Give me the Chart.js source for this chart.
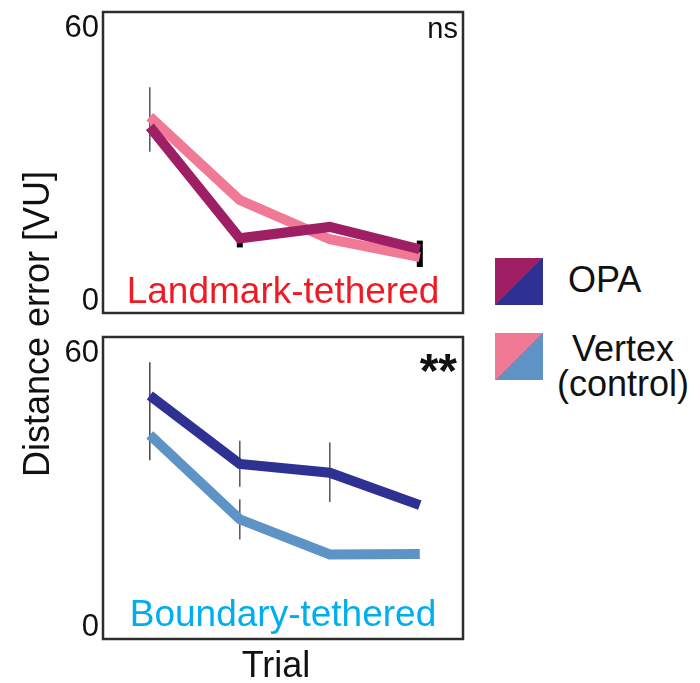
<!DOCTYPE html>
<html>
<head>
<meta charset="utf-8">
<script src="https://cdn.jsdelivr.net/npm/chart.js@4.4.1/dist/chart.umd.min.js"></script>
<style>
  body { margin: 0; background: #fff; }
  #wrap { position: relative; width: 700px; height: 683px; overflow: hidden;
          font-family: "Liberation Sans", Arial, sans-serif; color: #111; }
  canvas { position: absolute; left: 0; }
  .txt { position: absolute; font-size: 36px; line-height: 36px; white-space: nowrap; }
  .swatch { position: absolute; left: 495px; width: 48px; height: 47px; }
</style>
</head>
<body>
<div id="wrap">
  <canvas id="landmarkChart" width="470" height="325" style="top:0"></canvas>
  <canvas id="boundaryChart" width="470" height="325" style="top:325px"></canvas>

  <div class="txt" id="yTitle" style="left:37px;top:324px;width:400px;text-align:center;
       transform:translate(-50%,-50%) rotate(-90deg)">Distance error [VU]</div>
  <div class="txt" style="left:176px;top:647px;width:200px;text-align:center">Trial</div>

  <div class="swatch" style="top:258px;background:linear-gradient(to bottom right,#9e1f63 50%,#2e3192 50%)"></div>
  <div class="swatch" style="top:333px;background:linear-gradient(to bottom right,#f07a96 50%,#5e93c6 50%)"></div>
  <div class="txt" style="left:568px;top:262px">OPA</div>
  <div class="txt" style="left:552px;top:331px;width:142px;text-align:center">Vertex</div>
  <div class="txt" style="left:552px;top:366px;width:142px;text-align:center">(control)</div>
</div>

<script>
const trials = [1, 2, 3, 4];
const yTicks = [0, 60];

// Landmark-tethered panel
const landmarkOPA = [38.4, 13.9, 16.4, 11.5];
const landmarkVertex = [40.6, 22.3, 13.7, 9.8];
const landmarkOPAErrLow = [null, 11.9, null, 7.6];
const landmarkOPAErrHigh = [null, 15.0, null, 13.4];
const landmarkVertexErrLow = [32.9, null, null, null];
const landmarkVertexErrHigh = [47.1, null, null, null];

// Boundary-tethered panel
const boundaryOPA = [50.8, 35.8, 33.9, 26.8];
const boundaryVertex = [42.2, 23.7, 16.0, 16.1];
const boundaryOPAErrLow = [36.6, 30.8, 27.5, null];
const boundaryOPAErrHigh = [58.1, 40.9, 40.5, null];
const boundaryVertexErrLow = [null, 19.3, null, null];
const boundaryVertexErrHigh = [null, 28.1, null, null];

const FONT = "'Liberation Sans', Arial, sans-serif";

function points(values) {
  return trials.map((t, i) => ({ x: t, y: values[i] }));
}

// frame, error bars and in-panel labels
const panelPlugin = {
  id: "panel",
  beforeDatasetsDraw(chart, args, opts) {
    const { ctx } = chart;
    const x = chart.scales.x;
    const y = chart.scales.y;
    opts.errorBars.forEach((bars) => {
      trials.forEach((t, i) => {
        if (bars.low[i] == null) return;
        const px = x.getPixelForValue(t);
        ctx.save();
        ctx.strokeStyle = bars.colors[i];
        ctx.lineWidth = bars.widths[i];
        ctx.beginPath();
        ctx.moveTo(px, y.getPixelForValue(bars.low[i]));
        ctx.lineTo(px, y.getPixelForValue(bars.high[i]));
        ctx.stroke();
        ctx.restore();
      });
    });
  },
  afterDraw(chart, args, opts) {
    const { ctx, chartArea: a } = chart;
    ctx.save();
    ctx.strokeStyle = "#2d2d2d";
    ctx.lineWidth = 2.5;
    ctx.strokeRect(a.left, a.top, a.right - a.left, a.bottom - a.top);

    ctx.textBaseline = "alphabetic";
    ctx.textAlign = "center";
    ctx.fillStyle = opts.labelColor;
    ctx.font = `37px ${FONT}`;
    ctx.fillText(opts.label, (a.left + a.right) / 2, a.bottom - opts.labelOffset);

    ctx.textAlign = "right";
    ctx.fillStyle = "#111";
    ctx.font = opts.sigFont;
    ctx.fillText(opts.sig, a.right - opts.sigRight, a.top + opts.sigTop);
    ctx.restore();
  },
};

function chartOptions(series, panel, padding) {
  return {
    type: "line",
    data: {
      datasets: series.map((s) => ({
        data: points(s.values),
        borderColor: s.color,
        borderWidth: 10,
        borderCapStyle: "butt",
        borderJoinStyle: "miter",
        tension: 0,
        pointRadius: 0,
        fill: false,
      })),
    },
    options: {
      responsive: false,
      animation: false,
      events: [],
      layout: { padding },
      plugins: {
        legend: { display: false },
        tooltip: { enabled: false },
        panel,
      },
      scales: {
        x: {
          type: "linear",
          min: 0.48,
          max: 4.48,
          display: false,
        },
        y: {
          min: -2.5,
          max: 63.6,
          afterBuildTicks(scale) {
            scale.ticks = yTicks.map((v) => ({ value: v }));
          },
          afterFit(scale) {
            scale.width = 103;
            scale.paddingTop = 0;
            scale.paddingBottom = 0;
          },
          grid: { display: false, drawTicks: false, tickLength: 0 },
          border: { display: false },
          ticks: {
            color: "#111",
            padding: 4,
            font: { family: FONT, size: 31 },
          },
        },
      },
    },
    plugins: [panelPlugin],
  };
}

new Chart(
  document.getElementById("landmarkChart"),
  chartOptions(
    [
      { values: landmarkOPA, color: "#9e1f63" },
      { values: landmarkVertex, color: "#f07a96" },
    ],
    {
      label: "Landmark-tethered",
      labelColor: "#ed1c24",
      labelOffset: 10,
      sig: "ns",
      sigFont: `29px ${FONT}`,
      sigRight: 5,
      sigTop: 26,
      errorBars: [
        {
          low: landmarkOPAErrLow,
          high: landmarkOPAErrHigh,
          colors: ["#000", "#000", "#000", "#000"],
          widths: [6, 6, 6, 6],
        },
        {
          low: landmarkVertexErrLow,
          high: landmarkVertexErrHigh,
          colors: ["#555", "#555", "#555", "#555"],
          widths: [1.5, 1.5, 1.5, 1.5],
        },
      ],
    },
    { top: 12, right: 7, bottom: 12, left: 0 }
  )
);

new Chart(
  document.getElementById("boundaryChart"),
  chartOptions(
    [
      { values: boundaryOPA, color: "#2e3192" },
      { values: boundaryVertex, color: "#5e93c6" },
    ],
    {
      label: "Boundary-tethered",
      labelColor: "#00aeef",
      labelOffset: 13,
      sig: "**",
      sigFont: `bold 48px ${FONT}`,
      sigRight: 6,
      sigTop: 50,
      errorBars: [
        {
          low: boundaryOPAErrLow,
          high: boundaryOPAErrHigh,
          colors: ["#444", "#555", "#555", "#555"],
          widths: [1.5, 1.5, 1.5, 1.5],
        },
        {
          low: boundaryVertexErrLow,
          high: boundaryVertexErrHigh,
          colors: ["#555", "#555", "#555", "#555"],
          widths: [1.5, 1.5, 1.5, 1.5],
        },
      ],
    },
    { top: 12, right: 7, bottom: 11, left: 0 }
  )
);
</script>
</body>
</html>
